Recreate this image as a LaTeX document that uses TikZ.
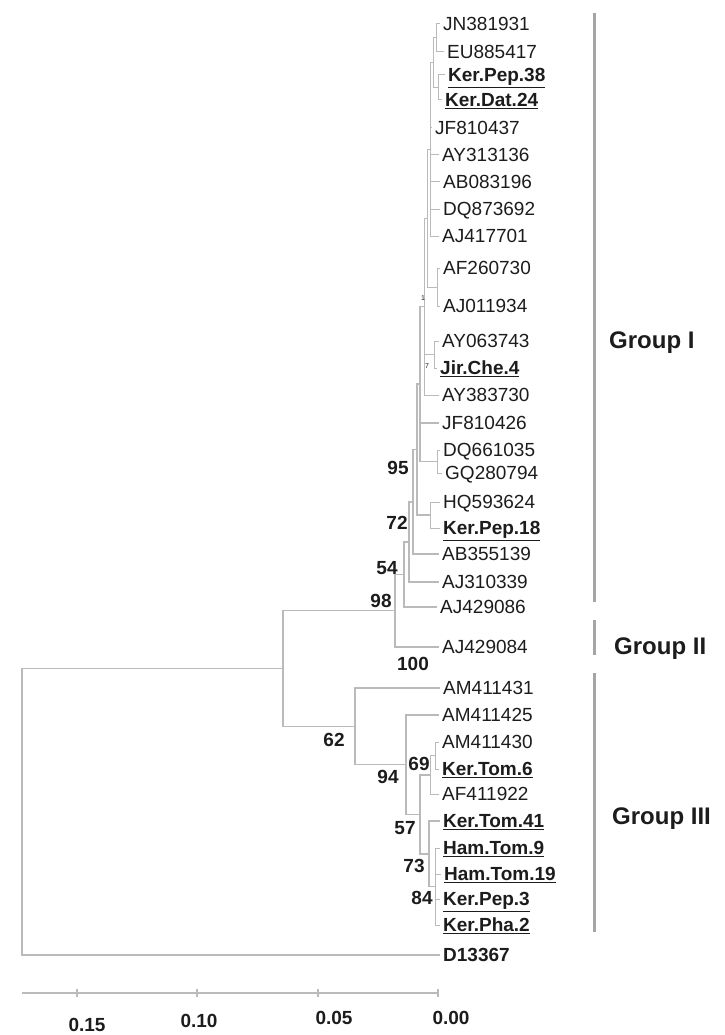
\documentclass[tikz,border=0pt]{standalone}
\usepackage{fontspec}
\setmainfont{Liberation Sans}
\usepackage{tikz}
\usetikzlibrary{positioning}
\definecolor{TreeGray}{RGB}{186,186,186}
\definecolor{BarGray}{RGB}{165,165,165}
\definecolor{InkBlack}{RGB}{28,28,28}
\tikzset{
  branch/.style={draw=TreeGray,line width=1.5pt},
  twig/.style={draw=TreeGray,line width=1pt},
  groupbar/.style={draw=BarGray,line width=3pt},
  scaleline/.style={draw=TreeGray,line width=1.2pt},
  leaf/.style={anchor=west,inner xsep=3pt,inner ysep=0pt,text height=13.6pt,text depth=0pt,font=\fontsize{19}{21}\selectfont,text=InkBlack},
  isolate/.style={leaf,font=\fontsize{19}{21}\selectfont\bfseries},
  boot/.style={inner sep=0pt,font=\fontsize{19}{21}\selectfont\bfseries,text=InkBlack},
  tinyboot/.style={inner sep=0pt,font=\fontsize{7}{8}\selectfont,text=InkBlack},
  grouplabel/.style={anchor=west,inner sep=0pt,font=\fontsize{24}{26}\selectfont\bfseries,text=InkBlack},
  scalelabel/.style={inner sep=0pt,font=\fontsize{19}{21}\selectfont\bfseries,text=InkBlack}
}
\begin{document}
\begin{tikzpicture}[x=1pt,y=-1pt]
\useasboundingbox (0,0) rectangle (724,1035);
% leaves, Group I
\node[leaf] (jn381931) at (440,24) {JN381931};
\node[leaf] (eu885417) at (444,52) {EU885417};
\node[isolate] (kerpep38) at (445,75) {\underline{Ker.Pep.38}};
\node[isolate] (kerdat24) at (442,100) {\underline{Ker.Dat.24}};
\node[leaf] (jf810437) at (432,128) {JF810437};
\node[leaf] (ay313136) at (439,155) {AY313136};
\node[leaf] (ab083196) at (440,182) {AB083196};
\node[leaf] (dq873692) at (440,209) {DQ873692};
\node[leaf] (aj417701) at (439,236) {AJ417701};
\node[leaf] (af260730) at (440,268) {AF260730};
\node[leaf] (aj011934) at (440,306) {AJ011934};
\node[leaf] (ay063743) at (439,341) {AY063743};
\node[isolate] (jirche4) at (437,368) {\underline{Jir.Che.4}};
\node[leaf] (ay383730) at (439,395) {AY383730};
\node[leaf] (jf810426) at (439,423) {JF810426};
\node[leaf] (dq661035) at (440,450) {DQ661035};
\node[leaf] (gq280794) at (442,473) {GQ280794};
\node[leaf] (hq593624) at (440,502) {HQ593624};
\node[isolate] (kerpep18) at (440,528) {\underline{Ker.Pep.18}};
\node[leaf] (ab355139) at (439,554) {AB355139};
\node[leaf] (aj310339) at (439,582) {AJ310339};
\node[leaf] (aj429086) at (437,607) {AJ429086};
% Group II
\node[leaf] (aj429084) at (439,647) {AJ429084};
% Group III
\node[leaf] (am411431) at (440,688) {AM411431};
\node[leaf] (am411425) at (439,715) {AM411425};
\node[leaf] (am411430) at (439,742) {AM411430};
\node[isolate] (kertom6) at (439,769) {\underline{Ker.Tom.6}};
\node[leaf] (af411922) at (439,794) {AF411922};
\node[isolate] (kertom41) at (440,821) {\underline{Ker.Tom.41}};
\node[isolate] (hamtom9) at (440,848) {\underline{Ham.Tom.9}};
\node[isolate] (hamtom19) at (441,874) {\underline{Ham.Tom.19}};
\node[isolate] (kerpep3) at (440,899) {\underline{Ker.Pep.3}};
\node[isolate] (kerpha2) at (440,925) {\underline{Ker.Pha.2}};
% outgroup
\node[isolate] (d13367) at (440,955) {D13367};

% internal nodes
\coordinate (nA) at (436,38);
\coordinate (nB) at (438,87.5);
\coordinate (nC) at (433,62.8);
\coordinate (nD) at (430,149.4);
\coordinate (nE) at (437,287);
\coordinate (nG) at (427,218.2);
\coordinate (nH) at (434,354.5);
\coordinate (nI) at (424,306.6);
\coordinate (nJ) at (437,461.5);
\coordinate (nK) at (420,384);
\coordinate (nL) at (430,515);
\coordinate (nM) at (417,449.5);
\coordinate (nN) at (413,501.8);
\coordinate (nO) at (409,541.9);
\coordinate (nP) at (404,574.4);
\coordinate (groupOneTwo) at (395,610.7);
\coordinate (tA) at (435,755.5);
\coordinate (tB) at (430,774.8);
\coordinate (tC) at (435,886.5);
\coordinate (tD) at (429,853.8);
\coordinate (tE) at (420,814.3);
\coordinate (tF) at (406,764.6);
\coordinate (groupThree) at (355,726.3);
\coordinate (ingroup) at (283,668.5);
\coordinate (root) at (22,811.8);

% branches
\draw[twig] (nA) |- (jn381931.west);
\draw[twig] (nA) |- (eu885417.west);
\draw[twig] (nB) |- (kerpep38.west);
\draw[twig] (nB) |- (kerdat24.west);
\draw[twig] (nC) |- (nA);
\draw[twig] (nC) |- (nB);
\draw[twig] (nD) |- (nC);
\draw[twig] (nD) |- (jf810437.west);
\draw[twig] (nD) |- (ay313136.west);
\draw[twig] (nD) |- (ab083196.west);
\draw[twig] (nD) |- (dq873692.west);
\draw[twig] (nD) |- (aj417701.west);
\draw[twig] (nE) |- (af260730.west);
\draw[twig] (nE) |- (aj011934.west);
\draw[twig] (nG) |- (nD);
\draw[twig] (nG) |- (nE);
\draw[twig] (nH) |- (ay063743.west);
\draw[twig] (nH) |- (jirche4.west);
\draw[twig] (nI) |- (nG);
\draw[twig] (nI) |- (nH);
\draw[twig] (nI) |- (ay383730.west);
\draw[twig] (nJ) |- (dq661035.west);
\draw[twig] (nJ) |- (gq280794.west);
\draw[branch] (nK) |- (nI);
\draw[branch] (nK) |- (jf810426.west);
\draw[branch] (nK) |- (nJ);
\draw[twig] (nL) |- (hq593624.west);
\draw[twig] (nL) |- (kerpep18.west);
\draw[branch] (nM) |- (nK);
\draw[branch] (nM) |- (nL);
\draw[branch] (nN) |- (nM);
\draw[branch] (nN) |- (ab355139.west);
\draw[branch] (nO) |- (nN);
\draw[branch] (nO) |- (aj310339.west);
\draw[branch] (nP) |- (nO);
\draw[branch] (nP) |- (aj429086.west);
\draw[branch] (groupOneTwo) |- (nP);
\draw[branch] (groupOneTwo) |- (aj429084.west);
\draw[twig] (tA) |- (am411430.west);
\draw[twig] (tA) |- (kertom6.west);
\draw[twig] (tB) |- (tA);
\draw[twig] (tB) |- (af411922.west);
\draw[twig] (tC) |- (hamtom9.west);
\draw[twig] (tC) |- (hamtom19.west);
\draw[twig] (tC) |- (kerpep3.west);
\draw[twig] (tC) |- (kerpha2.west);
\draw[branch] (tD) |- (kertom41.west);
\draw[branch] (tD) |- (tC);
\draw[branch] (tE) |- (tB);
\draw[branch] (tE) |- (tD);
\draw[branch] (tF) |- (am411425.west);
\draw[branch] (tF) |- (tE);
\draw[branch] (groupThree) |- (am411431.west);
\draw[branch] (groupThree) |- (tF);
\draw[branch] (ingroup) |- (groupOneTwo);
\draw[branch] (ingroup) |- (groupThree);
\draw[branch] (root) |- (ingroup);
\draw[branch] (root) |- (d13367.west);

% bootstrap values
\node[boot] at (381,601) {98};
\node[boot] at (387,568) {54};
\node[boot] at (397,523) {72};
\node[boot] at (398,468) {95};
\node[boot] at (413,664) {100};
\node[boot] at (334,740) {62};
\node[boot] at (388,777) {94};
\node[boot] at (419,764) {69};
\node[boot] at (405,828) {57};
\node[boot] at (414,866) {73};
\node[boot] at (422,898) {84};
\node[tinyboot] at (423,298) {1};
\node[tinyboot] at (427,366) {7};

% groups
\coordinate (barOneTop) at (594,13);
\coordinate (barOneBot) at (594,602);
\coordinate (barTwoTop) at (594,620);
\coordinate (barTwoBot) at (594,655);
\coordinate (barThreeTop) at (594,673);
\coordinate (barThreeBot) at (594,932);
\draw[groupbar] (barOneTop) -- (barOneBot);
\draw[groupbar] (barTwoTop) -- (barTwoBot);
\draw[groupbar] (barThreeTop) -- (barThreeBot);
\node[grouplabel] (groupI) at (609,343) {Group I};
\node[grouplabel] (groupII) at (614,649) {Group II};
\node[grouplabel] (groupIII) at (612,819) {Group III};

% scale
\coordinate (scaleL) at (22,993);
\coordinate (scaleR) at (438,993);
\draw[scaleline] (scaleL) -- (scaleR);
\draw[scaleline] (77,989) -- (77,997);
\draw[scaleline] (197,989) -- (197,997);
\draw[scaleline] (318,989) -- (318,997);
\draw[scaleline] (438,989) -- (438,997);
\node[scalelabel] (tick15) at (87,1025) {0.15};
\node[scalelabel] (tick10) at (199,1021) {0.10};
\node[scalelabel] (tick05) at (334,1018) {0.05};
\node[scalelabel] (tick00) at (451,1018) {0.00};
\end{tikzpicture}
\end{document}
